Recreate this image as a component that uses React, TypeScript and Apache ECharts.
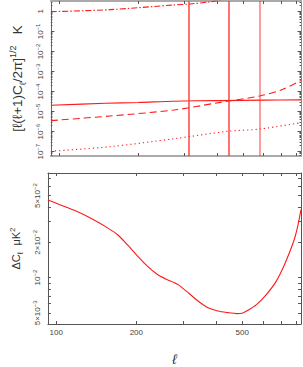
import React, { useEffect, useRef } from "react";
import * as echarts from "echarts";

// ---- data ----
const X_MIN = 93;
const X_MAX = 832;
const TOP_Y_MIN = 6.1e-8;
const TOP_Y_MAX = 3.3;
const BOT_Y_MIN = 0.00402;
const BOT_Y_MAX = 0.078;

const X_TICKS = [100, 200, 300, 400, 500, 600, 700, 800];
const X_LABELS = [100, 200, 500];
const TOP_Y_MAJOR = [1e-7, 1e-6, 1e-5, 1e-4, 1e-3, 1e-2, 1e-1, 1];
const BOT_Y_TICKS = [0.005, 0.006, 0.007, 0.008, 0.009, 0.01, 0.02, 0.03, 0.04, 0.05, 0.06, 0.07];
const BOT_Y_LABELS = [0.005, 0.01, 0.02, 0.05];

const VLINES = [310, 440, 580];

const DASHDOT_L = [93, 156, 273, 314, 372, 398, 450];
const DASHDOT_V = [0.97, 1.22, 2.09, 2.34, 2.95, 3.4, 4.5];

const SOLID_L = [93, 150, 200, 273, 400, 600, 832];
const SOLID_V = [2.09e-5, 2.6e-5, 2.85e-5, 3.31e-5, 3.55e-5, 3.72e-5, 3.85e-5];

const DASHED_L = [93, 156, 273, 405, 580, 707, 832];
const DASHED_V = [3.55e-6, 6.03e-6, 1.2e-5, 2.82e-5, 6.03e-5, 1.26e-4, 3.55e-4];

const DOTTED_L = [93, 156, 275, 440, 580, 832];
const DOTTED_V = [1.05e-7, 1.78e-7, 4.47e-7, 1.05e-6, 1.35e-6, 2.8e-6];

const DELTA_L = [93, 103, 118, 136, 157, 170, 185, 201, 219, 238, 259, 277, 289, 315, 342, 372, 405, 440, 478, 499, 520, 566, 615, 669, 727, 791, 832];
const DELTA_V = [0.046, 0.0419, 0.0371, 0.0318, 0.0263, 0.0232, 0.0191, 0.0155, 0.01265, 0.0108, 0.0097, 0.0091, 0.00863, 0.00736, 0.00628, 0.00553, 0.00519, 0.00503, 0.00493, 0.00496, 0.00519, 0.00589, 0.00713, 0.00919, 0.01347, 0.02242, 0.038];

// ---------------------------------------
const FONT = "'Liberation Sans', 'DejaVu Sans', sans-serif";
const L10 = (v: number) => Math.log10(v);
const pairs = (xs: number[], ys: number[]) => xs.map((x, i) => [x, ys[i]]);
const minorsOf = (lo: number, hi: number) => {
  const out: number[] = [];
  for (let e = lo; e <= hi; e++) for (let k = 2; k <= 9; k++) out.push(L10(k * Math.pow(10, e)));
  return out;
};

const labelRich = {
  b: { fontSize: 8, lineHeight: 11, color: "#444", fontFamily: FONT },
  s: { fontSize: 6, lineHeight: 7, color: "#444", fontFamily: FONT, verticalAlign: "top" },
};

const fmtTop = (v: number) => {
  const e = Math.round(v);
  if (e === 0) return "{b|1}";
  return "{b|10}{s|−" + Math.abs(e) + "}";
};
const fmtBot = (v: number) => {
  const e = Math.floor(v + 1e-9);
  const m = Math.round(Math.pow(10, v - e));
  const ex = "{s|" + (e < 0 ? "−" : "") + Math.abs(e) + "}";
  return m === 1 ? "{b|10}" + ex : "{b|" + m + "×10}" + ex;
};

export default function App() {
  const ref = useRef<HTMLDivElement>(null);
  useEffect(() => {
    if (!ref.current) return;
    const chart = echarts.init(ref.current, undefined, { renderer: "svg" });
    const lx0 = L10(X_MIN), lx1 = L10(X_MAX);
    const tick = "#555";
    const xTickAxis = (grid: number, pos: string, lineColor: string, lineWidth: number, labels: boolean, name?: string) => ({
      type: "value", gridIndex: grid, position: pos, min: lx0, max: lx1,
      axisLine: { show: true, onZero: false, lineStyle: { color: lineColor, width: lineWidth } },
      axisTick: { show: true, inside: true, length: 3, customValues: X_TICKS.map(L10), lineStyle: { color: tick } },
      axisLabel: labels
        ? { show: true, customValues: X_LABELS.map(L10), formatter: (v: number) => String(Math.round(Math.pow(10, v))), fontSize: 8, color: "#444", fontFamily: FONT, margin: 4 }
        : { show: false },
      splitLine: { show: false },
      name: name || "",
      nameLocation: "middle",
      nameGap: 28,
      nameTextStyle: { fontSize: 14, fontStyle: "italic", color: "#333", fontFamily: FONT },
    });
    const yTickAxis = (grid: number, pos: string, lo: number, hi: number, ticks: number[], len: number, lineColor: string, lineWidth: number, lineShow: boolean, labels: any) => ({
      type: "value", gridIndex: grid, position: pos, min: lo, max: hi,
      axisLine: { show: lineShow, onZero: false, lineStyle: { color: lineColor, width: lineWidth } },
      axisTick: { show: true, inside: true, length: len, customValues: ticks, lineStyle: { color: tick } },
      axisLabel: labels || { show: false },
      splitLine: { show: false },
    });
    const ty0 = L10(TOP_Y_MIN), ty1 = L10(TOP_Y_MAX);
    const by0 = L10(BOT_Y_MIN), by1 = L10(BOT_Y_MAX);
    const topMajor = TOP_Y_MAJOR.map(L10);
    const topMinor = minorsOf(-8, 0);
    const botTicks = BOT_Y_TICKS.map(L10);

    const topLeft: any = yTickAxis(0, "left", ty0, ty1, topMajor, 3.5, "#666", 1, true, {
      show: true, customValues: topMajor, rotate: 90, margin: 5, formatter: fmtTop, rich: labelRich,
    });
    topLeft.name = "[ℓ(ℓ+1)C{sub|ℓ}/2π]{sup|1/2}   K";
    topLeft.nameLocation = "middle";
    topLeft.nameRotate = 90;
    topLeft.nameGap = 22;
    topLeft.nameTextStyle = {
      fontSize: 13.5, lineHeight: 19, color: "#333", fontFamily: FONT,
      rich: {
        sub: { fontSize: 9, lineHeight: 10, verticalAlign: "bottom", color: "#333", fontFamily: FONT },
        sup: { fontSize: 9, lineHeight: 10, verticalAlign: "top", color: "#333", fontFamily: FONT },
      },
    };

    const botLeft: any = yTickAxis(1, "left", by0, by1, botTicks, 3, "#555", 1, true, {
      show: true, customValues: BOT_Y_LABELS.map(L10), rotate: 90, margin: 5, formatter: fmtBot, rich: labelRich,
    });
    botLeft.name = "ΔC{sub|ℓ}  μK{sup|2}";
    botLeft.nameLocation = "middle";
    botLeft.nameRotate = 90;
    botLeft.nameGap = 20;
    botLeft.nameTextStyle = {
      fontSize: 11, lineHeight: 16, color: "#333", fontFamily: FONT,
      rich: {
        sub: { fontSize: 8, lineHeight: 8, verticalAlign: "bottom", color: "#333", fontFamily: FONT },
        sup: { fontSize: 8, lineHeight: 8, verticalAlign: "top", color: "#333", fontFamily: FONT },
      },
    };

    const red = "#ff1a1a";
    const line = (name: string, xs: number[], ys: number[], type: any, extra: any = {}) => ({
      type: "line", name, xAxisIndex: 0, yAxisIndex: 0, data: pairs(xs, ys), showSymbol: false, symbol: "none",
      smooth: 0.3, clip: true, lineStyle: { color: red, width: 1.1, type }, ...extra,
    });

    chart.setOption({
      animation: false,
      backgroundColor: "#fff",
      grid: [
        { left: 40, top: 1, width: 261, height: 155, show: false },
        { left: 40, top: 173, width: 261, height: 155, show: false },
      ],
      xAxis: [
        { type: "log", gridIndex: 0, min: X_MIN, max: X_MAX, show: false },
        xTickAxis(0, "bottom", "#aaa", 2, false),
        xTickAxis(0, "top", "#aaa", 2, false),
        { type: "log", gridIndex: 1, min: X_MIN, max: X_MAX, show: false },
        xTickAxis(1, "bottom", "#555", 1, true, "ℓ"),
        xTickAxis(1, "top", "#555", 1, false),
      ],
      yAxis: [
        { type: "log", gridIndex: 0, min: TOP_Y_MIN, max: TOP_Y_MAX, show: false },
        topLeft,
        yTickAxis(0, "left", ty0, ty1, topMinor, 1.5, "#666", 1, false, null),
        yTickAxis(0, "right", ty0, ty1, topMajor, 3.5, "#888", 1, true, null),
        yTickAxis(0, "right", ty0, ty1, topMinor, 1.5, "#888", 1, false, null),
        { type: "log", gridIndex: 1, min: BOT_Y_MIN, max: BOT_Y_MAX, show: false },
        botLeft,
        yTickAxis(1, "right", by0, by1, botTicks, 3, "#555", 1, true, null),
      ],
      series: [
        line("dashdot", DASHDOT_L, DASHDOT_V, [6, 2, 1.5, 2]),
        line("solid", SOLID_L, SOLID_V, "solid", {
          markLine: {
            silent: true, symbol: "none", label: { show: false },
            data: VLINES.map((v, i) => ({
              xAxis: v,
              lineStyle: { color: "#ff3030", width: 1.6, type: "solid", opacity: i === 2 ? 0.6 : 0.85 },
            })),
          },
        }),
        line("dashed", DASHED_L, DASHED_V, [7, 4]),
        line("dotted", DOTTED_L, DOTTED_V, [1.2, 3]),
        {
          type: "line", name: "delta", xAxisIndex: 3, yAxisIndex: 5, data: pairs(DELTA_L, DELTA_V),
          showSymbol: false, symbol: "none", smooth: 0.3, clip: true,
          lineStyle: { color: red, width: 1.1 },
        },
      ],
    });
    return () => chart.dispose();
  }, []);
  return <div ref={ref} style={{ width: 303, height: 367, position: "absolute", left: 0, top: 0 }} />;
}
